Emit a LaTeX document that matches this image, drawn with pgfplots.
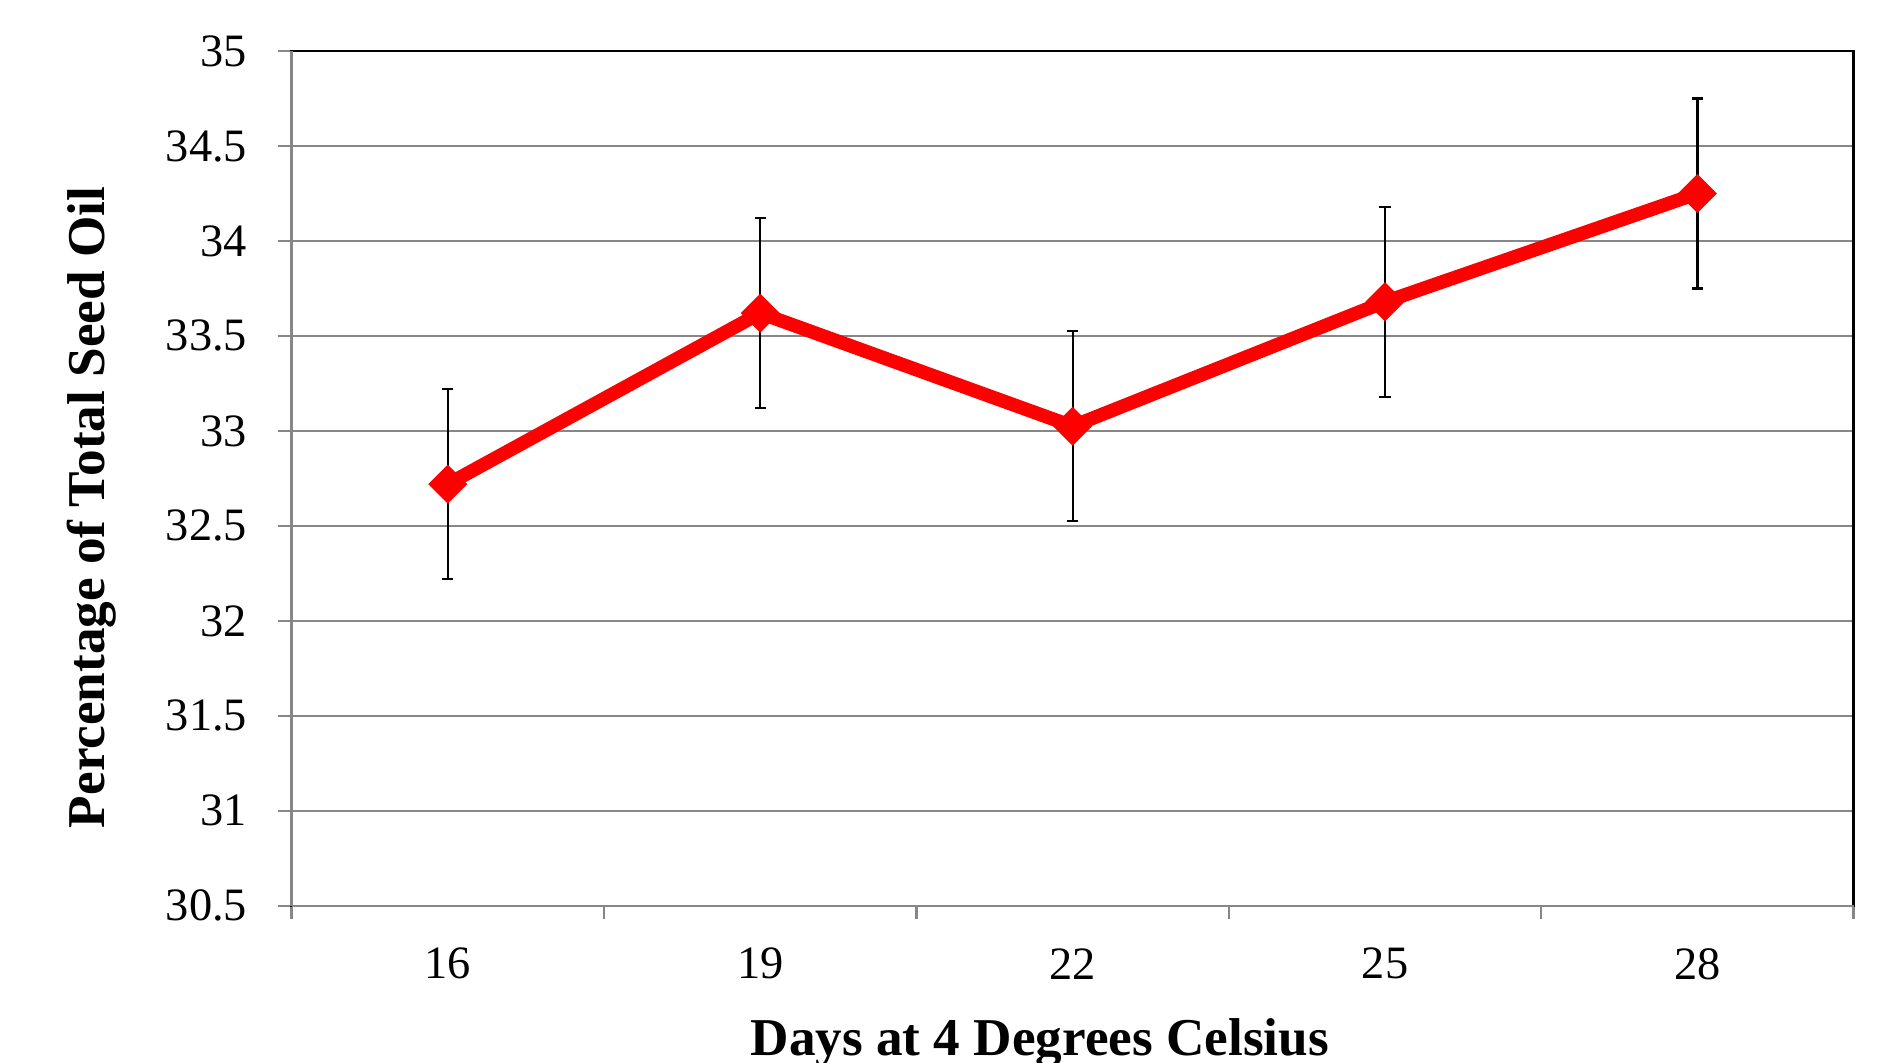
\documentclass[border=0pt]{standalone}
\usepackage{pgfplots}
\pgfplotsset{compat=1.18}
\usepackage{fontspec}
\setmainfont{Liberation Serif}
\definecolor{axgray}{RGB}{135,135,135}
\begin{document}
\begin{tikzpicture}
\begin{axis}[
  scale only axis,
  width=390.5pt, height=213.7pt,
  xmin=-0.5, xmax=4.5,
  ymin=30.5, ymax=35,
  ytick={30.5,31,31.5,32,32.5,33,33.5,34,34.5,35},
  xtick={0,1,2,3,4},
  xticklabels={16,19,22,25,28},
  minor xtick={-0.5,0.5,1.5,2.5,3.5,4.5},
  major x tick style={draw=none},
  minor x tick style={axgray, line width=0.6pt},
  minor tick length=3.4pt,
  major tick length=3.5pt,
  tick align=outside,
  y tick style={axgray, line width=0.6pt},
  xtick pos=bottom, ytick pos=left,
  ymajorgrids,
  grid style={axgray, line width=0.55pt},
  axis line style={black, line width=0.6pt},
  /pgf/number format/assume math mode=true,
  tick label style={font=\fontsize{11.6}{13}\selectfont},
  yticklabel style={anchor=east, inner sep=0pt, xshift=-7.4pt},
  xticklabel style={anchor=center, inner sep=0pt, yshift=-11pt},
  xlabel={Days at 4 Degrees Celsius},
  ylabel={Percentage of Total Seed Oil},
  label style={font=\fontsize{13.3}{15}\selectfont\bfseries},
  xlabel style={at={(axis description cs:0.479,-0.160)}, anchor=center},
  ylabel style={at={(axis description cs:-0.128,0.466)}, anchor=center, rotate=0},
  clip=false,
]
\addplot[red, line width=3.4pt,
  mark=square*, mark size=3.3pt,
  mark options={solid, rotate=45, fill=red, draw=red, line width=0.3pt},
  error bars/.cd, y dir=both, y explicit,
  error bar style={black, line width=0.55pt},
  error mark options={rotate=90, mark size=1.4pt, black, line width=0.55pt}]
coordinates {
 (0,32.72) +- (0,0.5)
 (1,33.62) +- (0,0.5)
 (2,33.025) +- (0,0.5)
 (3,33.68) +- (0,0.5)
 (4,34.25) +- (0,0.5)
};
\draw[axgray, line width=0.6pt] (rel axis cs:0,0) -- (rel axis cs:0,1);
\draw[axgray, line width=0.6pt] (rel axis cs:0,0) -- (rel axis cs:1,0);
\coordinate (o) at (rel axis cs:0,0);
\coordinate (t) at (rel axis cs:1,1);
\end{axis}
\path (o) ++(-72.9pt,-39.1pt) coordinate (bb1);
\path (t) ++(12.1pt,12.75pt) coordinate (bb2);
\pgfresetboundingbox
\useasboundingbox (bb1) rectangle (bb2);
\end{tikzpicture}
\end{document}
